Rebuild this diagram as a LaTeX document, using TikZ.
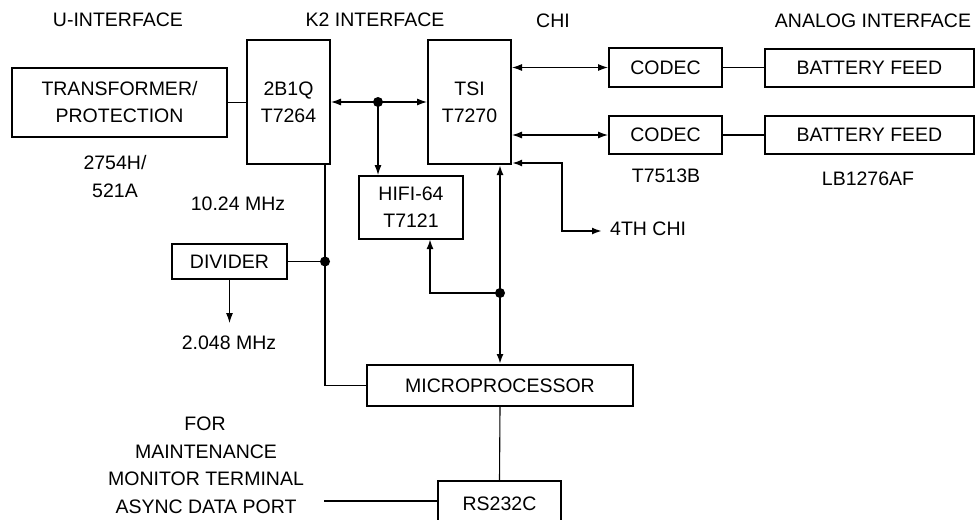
\documentclass[tikz,border=0pt]{standalone}
\usepackage{fontspec}
\setmainfont{Liberation Sans}
\usetikzlibrary{arrows.meta,calc}
\begin{document}
\begin{tikzpicture}[x=1pt,y=-1pt,font=\fontsize{19.5}{27}\selectfont,
  box/.style={draw,line width=2pt,inner sep=0pt,align=center},
  thin/.style={line width=1.1pt},
  bus/.style={line width=2pt},
  tip/.style={-{Latex[length=10pt,width=7pt]}},
  tips/.style={{Latex[length=10pt,width=7pt]}-{Latex[length=10pt,width=7pt]}},
  lbl/.style={anchor=base,inner sep=0pt},
  dot/.style={circle,fill,inner sep=0pt,minimum size=10pt}]
\useasboundingbox (0,0) rectangle (976,519);
\clip (0,0) rectangle (976,519);

% boxes
\node[box,minimum width=215pt,minimum height=69pt] (trans) at (119.5,102.5) {TRANSFORMER/\\PROTECTION};
\node[box,minimum width=83pt,minimum height=124pt] (q) at (288.5,102) {2B1Q\\T7264};
\node[box,minimum width=83pt,minimum height=124pt] (tsi) at (469.5,102) {TSI\\T7270};
\node[box,minimum width=113pt,minimum height=39pt] (codecA) at (665.5,67.5) {CODEC};
\node[box,minimum width=113pt,minimum height=38pt] (codecB) at (665.5,135) {CODEC};
\node[box,minimum width=209pt,minimum height=38pt] (batA) at (869.5,68) {BATTERY FEED};
\node[box,minimum width=209pt,minimum height=38pt] (batB) at (869.5,135) {BATTERY FEED};
\node[box,minimum width=104pt,minimum height=63pt] (hifi) at (411,207.5) {HIFI-64\\T7121};
\node[box,minimum width=115pt,minimum height=35pt] (div) at (229.5,261.5) {DIVIDER};
\node[box,minimum width=266pt,minimum height=41pt] (micro) at (500,385.5) {MICROPROCESSOR};
\node[box,minimum width=123pt,minimum height=46pt] (rs) at (499.5,504) {RS232C};

% labels
\node[lbl] (lu) at (118,27) {U-INTERFACE};
\node[lbl] (lk) at (375,27) {K2 INTERFACE};
\node[lbl] (lc) at (553,28) {CHI};
\node[lbl] (la) at (873,28) {ANALOG INTERFACE};
\node[lbl] (l1) at (115,169) {2754H/};
\node[lbl] (l2) at (115,197) {521A};
\node[lbl] (l3) at (238,210) {10.24 MHz};
\node[lbl] (l4) at (229,349) {2.048 MHz};
\node[lbl] (l5) at (666,182) {T7513B};
\node[lbl] (l6) at (868,185) {LB1276AF};
\node[lbl,anchor=base west] (l7) at (610,235) {4TH CHI};
\node[lbl] (l8) at (205,430) {FOR};
\node[lbl] (l9) at (206,458) {MAINTENANCE};
\node[lbl] (l10) at (206,485) {MONITOR TERMINAL};
\node[lbl] (l11) at (206,513) {ASYNC DATA PORT};

% junction coordinates
\coordinate (k2dot) at (378,102);
\coordinate (clk) at (325,164);
\coordinate (clkdot) at (325,261.5);
\coordinate (busdot) at (500,293);
\coordinate (hfin) at (430,239);
\coordinate (chiA) at (562,163);
\coordinate (chiB) at (562,231);
\coordinate (chiC) at (602,231);
\coordinate (f2) at (229.5,323);
\coordinate (async) at (324,501);

% connectors
\draw[thin] (trans.east) -- (trans.east -| q.west);
\draw[thin,tips] (q.east |- k2dot) -- (tsi.west |- k2dot);
\draw[thin,tip] (k2dot) -- (k2dot |- hifi.north);
\node[dot] (k2d) at (k2dot) {};
\draw[thin,tips] (tsi.east |- codecA.west) -- (codecA.west);
\draw[thin,tips] (tsi.east |- codecB.west) -- (codecB.west);
\draw[thin] (codecA.east) -- (codecA.east -| batA.west);
\draw[thin] (codecB.east) -- (codecB.east -| batB.west);
\draw[bus,tips] (tsi.east |- chiA) -- (chiA) -- (chiB) -- (chiC);
\draw[bus,tips] (micro.north |- tsi.south) -- (micro.north);
\draw[bus,tip] (busdot) -| (hfin);
\node[dot] (bd) at (busdot) {};
\draw[thin] (clk) |- (micro.west);
\draw[thin] (div.east) -- (clkdot);
\node[dot] (cd) at (clkdot) {};
\draw[thin,tip] (div.south) -- (f2);
\draw[thin] (micro.south) -- (rs.north);
\draw[thin] (async) -- (async -| rs.west);
\end{tikzpicture}
\end{document}
